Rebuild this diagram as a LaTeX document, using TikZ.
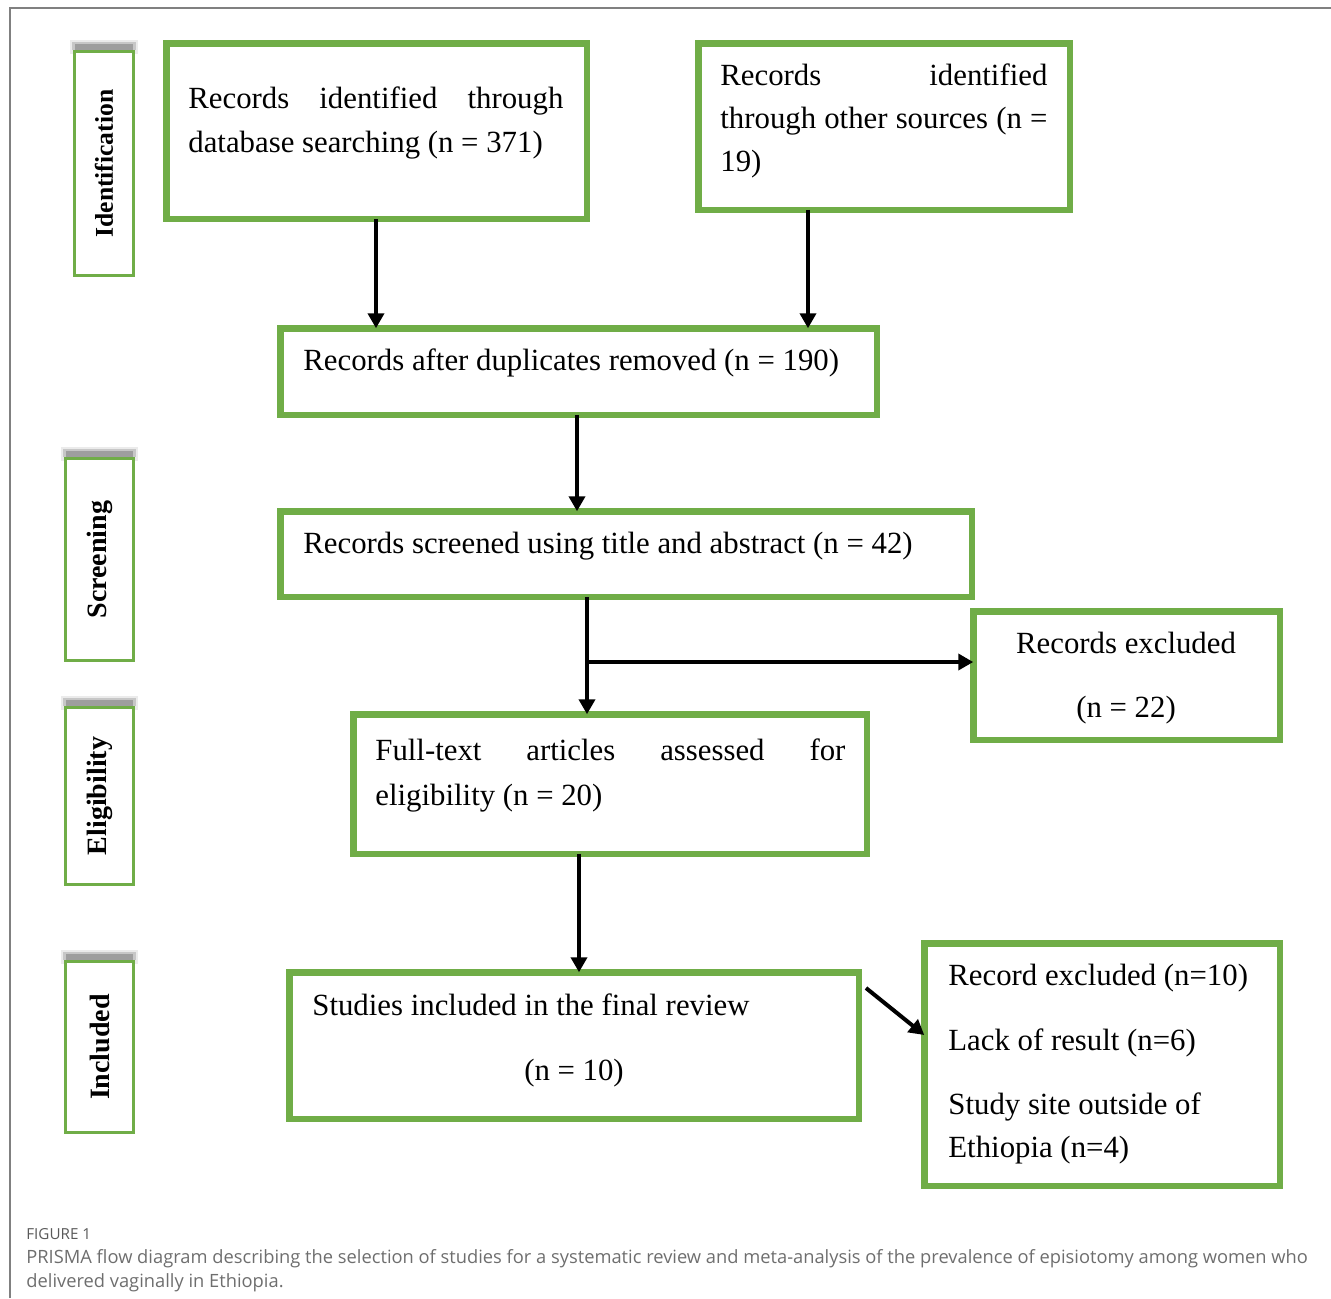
\documentclass[tikz,border=0pt]{standalone}
\usepackage{fontspec}
\setmainfont{Liberation Serif}
\newfontfamily\capfont{Open Sans}
\usetikzlibrary{arrows.meta}
\definecolor{pgreen}{RGB}{112,173,71}
\definecolor{capgray}{RGB}{110,110,110}
\begin{document}
\begin{tikzpicture}[x=0.5pt,y=-0.5pt,
  gbox/.style={draw=pgreen, line width=3.25pt, inner sep=0pt, outer sep=0pt, fill=white},
  sbox/.style={draw=pgreen, line width=1.5pt, inner sep=0pt, outer sep=0pt, fill=white},
  txt/.style={inner sep=0pt, anchor=base west, font=\fontsize{15.4pt}{18pt}\selectfont},
  ctxt/.style={inner sep=0pt, anchor=base, font=\fontsize{15.4pt}{18pt}\selectfont},
  side/.style={inner sep=0pt, rotate=90, font=\fontsize{14pt}{16pt}\selectfont\bfseries},
  arr/.style={line width=2pt, -{Triangle[width=8pt,length=7.5pt]}},
  captxt/.style={inner sep=0pt, anchor=base west, text=capgray, font=\capfont\fontsize{9.15pt}{11pt}\selectfont}
]
\useasboundingbox (0,0) rectangle (1331,1298);
% outer frame
\draw[line width=0.75pt, black!50] (10,1298) -- (10,8) -- (1331,8);

% side boxes with soft shadows
\foreach \xa/\xb/\yt in {73/135/50, 64/135/457, 64/135/706, 64/135/960}{
  \fill[black!8] (\xa-3,\yt-10) rectangle (\xb+3,\yt+4);
  \fill[black!22] (\xa-1,\yt-8) rectangle (\xb+1,\yt);
  \fill[black!38] (\xa+2,\yt-6) rectangle (\xb-2,\yt);
}
\node[sbox, minimum width=29.5pt, minimum height=112pt] (sid) at (104,163.5) {};
\node[sbox, minimum width=34pt, minimum height=101pt] (ssc) at (99.5,559.5) {};
\node[sbox, minimum width=34pt, minimum height=88.5pt] (sel) at (99.5,796) {};
\node[sbox, minimum width=34pt, minimum height=85.5pt] (sin) at (99.5,1047) {};
\node[side, font=\fontsize{12.8pt}{15pt}\selectfont\bfseries] (tid) at (sid.center) {Identification};
\node[side] (tsc) at (ssc.center) {Screening};
\node[side] (tel) at (sel.center) {Eligibility};
\node[side] (tin) at (sin.center) {Included};

% main boxes
\node[gbox, minimum width=210.25pt, minimum height=87.75pt] (b1) at (376.5,131) {};
\node[gbox, minimum width=185.75pt, minimum height=83.25pt] (b2) at (884,126.5) {};
\node[gbox, minimum width=298.25pt, minimum height=43.25pt] (b3) at (578.5,371.5) {};
\node[gbox, minimum width=345.75pt, minimum height=42.75pt] (b4) at (626,554) {};
\node[gbox, minimum width=153.25pt, minimum height=64.25pt] (rex) at (1126.5,675.5) {};
\node[gbox, minimum width=256.75pt, minimum height=69.75pt] (b5) at (610,784) {};
\node[gbox, minimum width=284.75pt, minimum height=73.25pt] (b6) at (574,1045.5) {};
\node[gbox, minimum width=177.75pt, minimum height=121.25pt] (fex) at (1102,1064.5) {};

% texts
\node[txt] (t1a) at (188,108) {\hbox to 187.5pt{Records\hfill identified\hfill through}};
\node[txt] (t1b) at (188,152) {database searching (n = 371)};
\node[txt] (t2a) at (720,85) {\hbox to 163.5pt{Records\hfill identified}};
\node[txt] (t2b) at (720,128) {\hbox to 163.5pt{through\hfill other\hfill sources\hfill (n\hfill =}};
\node[txt] (t2c) at (720,171) {19)};
\node[txt] (t3) at (303,370) {Records after duplicates removed (n = 190)};
\node[txt] (t4) at (303,553) {Records screened using title and abstract (n = 42)};
\node[ctxt] (trx1) at (1126,653) {Records excluded};
\node[ctxt] (trx2) at (1126,717) {(n = 22)};
\node[txt] (t5a) at (375,760) {\hbox to 235pt{Full-text\hfill articles\hfill assessed\hfill for}};
\node[txt] (t5b) at (375,805) {eligibility (n = 20)};
\node[txt] (t6a) at (312,1015) {Studies included in the final review};
\node[ctxt] (t6b) at (574,1080) {(n = 10)};
\node[txt] (tf1) at (948,985) {Record excluded (n=10)};
\node[txt] (tf2) at (948,1050) {Lack of result (n=6)};
\node[txt] (tf3) at (948,1114) {Study site outside of};
\node[txt] (tf4) at (948,1157) {Ethiopia (n=4)};

% connectors
\coordinate (x1) at (376,0);
\coordinate (x2) at (808,0);
\coordinate (x3) at (577,0);
\coordinate (x4) at (587,0);
\coordinate (x5) at (579,0);
\coordinate (br) at (587,662);
\coordinate (d1) at (866,988);
\coordinate (d2) at (0,1035);
\draw[arr] (b1.south -| x1) -- (b3.north -| x1);
\draw[arr] (b2.south -| x2) -- (b3.north -| x2);
\draw[arr] (b3.south -| x3) -- (b4.north -| x3);
\draw[arr] (b4.south -| x4) -- (b5.north -| x4);
\draw[arr] (br) -- (br -| rex.west);
\draw[arr] (b5.south -| x5) -- (b6.north -| x5);
\draw[arr] (d1) -- (fex.west |- d2);

% caption
\node[captxt, text=black!65, font=\capfont\fontsize{7.6pt}{9pt}\selectfont] (c0) at (26,1239) {FIGURE 1};
\node[captxt] (c1) at (26,1263) {PRISMA flow diagram describing the selection of studies for a systematic review and meta-analysis of the prevalence of episiotomy among women who};
\node[captxt] (c2) at (26,1287) {delivered vaginally in Ethiopia.};
\end{tikzpicture}
\end{document}
